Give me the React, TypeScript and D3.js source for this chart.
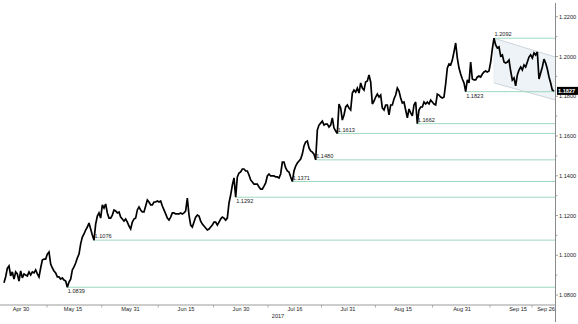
import React from "react";
import * as d3 from "d3";

// 8-hourly closes (3 points per trading session)
const prices: number[] = [
  1.0862, 1.0892, 1.0934, 1.0946, 1.0896, 1.0916, 1.0880, 1.0916, 1.0906, 1.0870,
  1.0921, 1.0886, 1.0906, 1.0901, 1.0896, 1.0916, 1.0901, 1.0916, 1.0911, 1.0926,
  1.0906, 1.0891, 1.0936, 1.0976, 1.0981, 1.0981, 1.1006, 1.1016, 1.0956, 1.0936,
  1.0921, 1.0911, 1.0891, 1.0891, 1.0880, 1.0886, 1.0875, 1.0870, 1.0839, 1.0865,
  1.0880, 1.0926, 1.0941, 1.0961, 1.0986, 1.1006, 1.1057, 1.1092, 1.1107, 1.1127,
  1.1142, 1.1162, 1.1132, 1.1102, 1.1076, 1.1157, 1.1197, 1.1213, 1.1187, 1.1253,
  1.1238, 1.1258, 1.1213, 1.1187, 1.1187, 1.1202, 1.1228, 1.1223, 1.1213, 1.1218,
  1.1192, 1.1182, 1.1172, 1.1182, 1.1167, 1.1147, 1.1132, 1.1167, 1.1182, 1.1187,
  1.1228, 1.1243, 1.1228, 1.1218, 1.1218, 1.1248, 1.1278, 1.1268, 1.1253, 1.1253,
  1.1268, 1.1268, 1.1273, 1.1268, 1.1273, 1.1248, 1.1228, 1.1208, 1.1187, 1.1177,
  1.1192, 1.1213, 1.1213, 1.1208, 1.1208, 1.1208, 1.1213, 1.1208, 1.1213, 1.1223,
  1.1288, 1.1202, 1.1152, 1.1142, 1.1167, 1.1192, 1.1202, 1.1197, 1.1172, 1.1157,
  1.1147, 1.1137, 1.1127, 1.1132, 1.1142, 1.1152, 1.1167, 1.1167, 1.1152, 1.1167,
  1.1182, 1.1192, 1.1187, 1.1177, 1.1187, 1.1263, 1.1303, 1.1353, 1.1389, 1.1292,
  1.1394, 1.1414, 1.1419, 1.1434, 1.1434, 1.1424, 1.1424, 1.1404, 1.1379, 1.1369,
  1.1358, 1.1358, 1.1358, 1.1343, 1.1333, 1.1333, 1.1348, 1.1364, 1.1399, 1.1409,
  1.1399, 1.1399, 1.1399, 1.1394, 1.1394, 1.1389, 1.1409, 1.1469, 1.1469, 1.1439,
  1.1424, 1.1419, 1.1394, 1.1371, 1.1424, 1.1449, 1.1464, 1.1474, 1.1484, 1.1509,
  1.1550, 1.1570, 1.1575, 1.1540, 1.1525, 1.1519, 1.1509, 1.1480, 1.1630, 1.1655,
  1.1665, 1.1675, 1.1655, 1.1660, 1.1660, 1.1645, 1.1655, 1.1691, 1.1640, 1.1625,
  1.1613, 1.1761, 1.1741, 1.1680, 1.1706, 1.1746, 1.1756, 1.1741, 1.1731, 1.1816,
  1.1831, 1.1821, 1.1841, 1.1816, 1.1867, 1.1841, 1.1831, 1.1872, 1.1877, 1.1907,
  1.1872, 1.1761, 1.1776, 1.1796, 1.1811, 1.1796, 1.1806, 1.1741, 1.1731, 1.1756,
  1.1756, 1.1706, 1.1756, 1.1756, 1.1786, 1.1806, 1.1841, 1.1826, 1.1791, 1.1766,
  1.1771, 1.1731, 1.1691, 1.1736, 1.1716, 1.1701, 1.1756, 1.1771, 1.1662, 1.1731,
  1.1746, 1.1746, 1.1771, 1.1761, 1.1771, 1.1761, 1.1781, 1.1771, 1.1761, 1.1756,
  1.1811, 1.1806, 1.1796, 1.1791, 1.1796, 1.1862, 1.1942, 1.1962, 1.1957, 1.1982,
  1.2023, 1.2068, 1.1992, 1.1942, 1.1912, 1.1887, 1.1867, 1.1823, 1.1882, 1.1867,
  1.1972, 1.1887, 1.1882, 1.1882, 1.1897, 1.1902, 1.1897, 1.1912, 1.1922, 1.1927,
  1.1922, 1.1927, 1.1972, 1.2038, 1.2092, 1.2058, 1.2043, 1.2048, 1.2002, 1.2008,
  1.1972, 1.1967, 1.1972, 1.1982, 1.1927, 1.1882, 1.1892, 1.1852, 1.1907, 1.1932,
  1.1947, 1.1932, 1.1957, 1.1947, 1.1972, 1.1997, 1.2008, 1.1992, 1.2018, 1.2008,
  1.2023, 1.1887, 1.1917, 1.1947, 1.1987, 1.1967, 1.1937, 1.1897, 1.1867, 1.1831, 1.1827,
];
const POINTS_PER_SESSION = 3;

const xTickLabels = ["Apr 30", "May 15", "May 31", "Jun 15", "Jun 30", "Jul 16", "Jul 31", "Aug 15", "Aug 31", "Sep 15", "Sep 26"];
const xTickSessions = [3.4, 13.8, 25.3, 36.4, 47.4, 58.2, 68.8, 79.8, 91.6, 102.8, 108.4];
const yearLabel = "2017";

const yMajorTicks = [1.08, 1.1, 1.12, 1.14, 1.16, 1.18, 1.2, 1.22];
const yMinorTicks = [1.09, 1.11, 1.13, 1.15, 1.17, 1.19, 1.21];

const levels = [1.0839, 1.1076, 1.1292, 1.1371, 1.148, 1.1613, 1.1662, 1.1823, 1.2092];
const levelLabelAbove = [false, true, false, true, true, true, true, false, true];

const channelSessions = [98, 110.3];
const channelUpper = [1.2092, 1.1997];
const channelLower = [1.1867, 1.1781];

const W = 578;
const H = 324;
const FONT = "'Liberation Sans', Arial, sans-serif";
const FS = 5.6;

export default function App() {
  const lastSession = (prices.length - 1) / POINTS_PER_SESSION;
  const x = d3.scaleLinear().domain([0, lastSession]).range([4, 554]);
  const y = d3.scaleLinear().domain([1.08, 1.22]).range([295, 16.75]);
  const axisX = 555.5;
  const axisY = 305;

  const line = d3
    .line<number>()
    .x((_, i) => x(i / POINTS_PER_SESSION))
    .y((d) => y(d));

  const channelPath = [
    [x(channelSessions[0]), y(channelUpper[0])],
    [x(channelSessions[1]), y(channelUpper[1])],
    [x(channelSessions[1]), y(channelLower[1])],
    [x(channelSessions[0]), y(channelLower[0])],
  ];

  const mids: number[] = [];
  for (let i = 0; i < xTickSessions.length - 1; i++) {
    mids.push((xTickSessions[i] + xTickSessions[i + 1]) / 2);
  }

  const last = prices[prices.length - 1];

  return (
    <svg
      width={W}
      height={H}
      style={{ position: "absolute", left: 0, top: 0, background: "#fff" }}
      fontFamily={FONT}
    >
      <rect x={0} y={0} width={W} height={H} fill="#fff" />
      {/* channel */}
      <polygon
        points={channelPath.map((p) => p.join(",")).join(" ")}
        fill="#edf3f6"
        stroke="none"
      />
      <line x1={channelPath[0][0]} y1={channelPath[0][1]} x2={channelPath[1][0]} y2={channelPath[1][1]} stroke="#c3ccd3" strokeWidth={0.8} />
      <line x1={channelPath[3][0]} y1={channelPath[3][1]} x2={channelPath[2][0]} y2={channelPath[2][1]} stroke="#c3ccd3" strokeWidth={0.8} />
      <line x1={channelPath[0][0]} y1={channelPath[0][1]} x2={channelPath[3][0]} y2={channelPath[3][1]} stroke="#dfe5ea" strokeWidth={0.6} />

      {/* level lines */}
      {levels.map((lv, i) => {
        const idx = prices.indexOf(lv);
        const lx = x(idx / POINTS_PER_SESSION);
        const ly = y(lv);
        return (
          <line key={"l" + i} x1={lx} x2={axisX} y1={ly} y2={ly} stroke="#9fd8bf" strokeWidth={1} />
        );
      })}

      {/* price line */}
      <path d={line(prices) || ""} fill="none" stroke="#000" strokeWidth={1.7} strokeLinejoin="miter" strokeMiterlimit={3} />

      {/* level labels */}
      {levels.map((lv, i) => {
        const idx = prices.indexOf(lv);
        const lx = x(idx / POINTS_PER_SESSION);
        const ly = y(lv);
        return (
          <text
            key={"t" + i}
            x={lx + 0.5}
            y={levelLabelAbove[i] ? ly - 1.8 : ly + 6.2}
            fontSize={FS}
            fill="#222"
          >
            {lv.toFixed(4)}
          </text>
        );
      })}

      {/* x axis */}
      <line x1={0} x2={axisX} y1={axisY} y2={axisY} stroke="#9a9a9a" strokeWidth={1} />
      {mids.map((m, i) => (
        <line key={"m" + i} x1={x(m)} x2={x(m)} y1={axisY} y2={axisY + 2.5} stroke="#9a9a9a" strokeWidth={0.8} />
      ))}
      {xTickLabels.map((t, i) => (
        <text key={"x" + i} x={x(xTickSessions[i])} y={311} fontSize={FS} textAnchor="middle" fill="#222">
          {t}
        </text>
      ))}
      <text x={278} y={318} fontSize={FS} textAnchor="middle" fill="#222">
        {yearLabel}
      </text>

      {/* y axis */}
      <line x1={axisX} x2={axisX} y1={3} y2={322} stroke="#8a8a8a" strokeWidth={1} />
      {yMinorTicks.map((t, i) => (
        <line key={"n" + i} x1={axisX} x2={axisX + 1.8} y1={y(t)} y2={y(t)} stroke="#8a8a8a" strokeWidth={0.8} />
      ))}
      {yMajorTicks.map((t, i) => (
        <g key={"y" + i}>
          <line x1={axisX} x2={axisX + 2.5} y1={y(t)} y2={y(t)} stroke="#8a8a8a" strokeWidth={0.8} />
          <text x={559} y={y(t) + 2} fontSize={FS} fill="#222">
            {t.toFixed(4)}
          </text>
        </g>
      ))}

      {/* last value box */}
      <rect x={557} y={y(last) - 4} width={21} height={8} fill="#000" />
      <text x={558} y={y(last) + 2} fontSize={FS} fill="#fff" fontWeight="bold">
        {last.toFixed(4)}
      </text>
    </svg>
  );
}
